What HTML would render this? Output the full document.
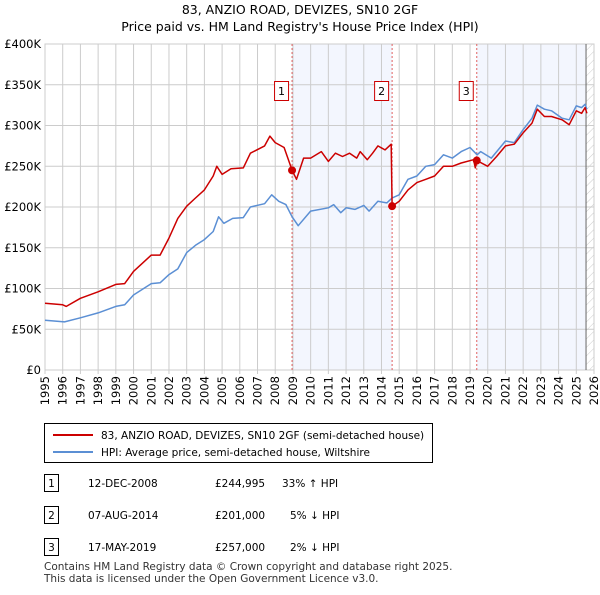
<!DOCTYPE html>
<html><head><meta charset="utf-8"><style>
body{margin:0;background:#fff;font-family:"Liberation Sans","DejaVu Sans",sans-serif}
svg text{font-family:"DejaVu Sans","Liberation Sans",sans-serif}
</style></head><body>
<svg id="c" width="600" height="590" xmlns="http://www.w3.org/2000/svg">
<defs><pattern id="hatch" width="6" height="6" patternUnits="userSpaceOnUse" patternTransform="rotate(45)"><line x1="0" y1="0" x2="0" y2="6" stroke="#ccc" stroke-width="1"/></pattern></defs>
<text x="300" y="14" text-anchor="middle" font-size="12.5">83, ANZIO ROAD, DEVIZES, SN10 2GF</text>
<text x="300" y="31" text-anchor="middle" font-size="12.5">Price paid vs. HM Land Registry's House Price Index (HPI)</text>
<g id="plot"></g>
<g>
<rect x="44.5" y="423.5" width="388" height="39" fill="#fff" stroke="#000"/>
<line x1="53" y1="435" x2="93" y2="435" stroke="#cc0000" stroke-width="2"/>
<text x="101" y="439" font-size="10.5">83, ANZIO ROAD, DEVIZES, SN10 2GF (semi-detached house)</text>
<line x1="53" y1="452" x2="93" y2="452" stroke="#5b8fd4" stroke-width="2"/>
<text x="101" y="456" font-size="10.5">HPI: Average price, semi-detached house, Wiltshire</text>
</g>
<g font-size="10.5">
<rect x="44.5" y="474.5" width="14" height="17" fill="#fff" stroke="#000"/><text x="51.5" y="487" text-anchor="middle">1</text>
<text x="88" y="487">12-DEC-2008</text><text x="215" y="487">£244,995</text><text x="282" y="487">33% ↑ HPI</text>
<rect x="44.5" y="506.5" width="14" height="17" fill="#fff" stroke="#000"/><text x="51.5" y="519" text-anchor="middle">2</text>
<text x="88" y="519">07-AUG-2014</text><text x="215" y="519">£201,000</text><text x="290" y="519">5% ↓ HPI</text>
<rect x="44.5" y="538.5" width="14" height="17" fill="#fff" stroke="#000"/><text x="51.5" y="551" text-anchor="middle">3</text>
<text x="88" y="551">17-MAY-2019</text><text x="215" y="551">£257,000</text><text x="290" y="551">2% ↓ HPI</text>
</g>
<text x="44" y="570" font-size="10.5" fill="#333">Contains HM Land Registry data © Crown copyright and database right 2025.</text>
<text x="44" y="582" font-size="10.5" fill="#333">This data is licensed under the Open Government Licence v3.0.</text>
</svg>
<script>
const hpiYears=[1995,1996.1,1997,1998,1999,1999.5,2000,2001,2001.5,2002,2002.5,2003,2003.5,2004,2004.5,2004.8,2005.1,2005.6,2006.2,2006.6,2007.4,2007.8,2008.2,2008.6,2008.95,2009.3,2010,2011,2011.3,2011.7,2012,2012.5,2013,2013.3,2013.8,2014.3,2014.6,2015,2015.5,2016,2016.5,2017,2017.5,2018,2018.5,2019,2019.4,2019.6,2020.2,2021,2021.5,2022,2022.5,2022.8,2023.2,2023.6,2024.2,2024.6,2025,2025.3,2025.5,2025.6];
const hpiValues=[61,59,64,70,78,80,92,106,107,117,124,144,153,160,170,188,180,186,187,200,204,215,207,203,188,177,195,199,203,193,199,197,202,195,207,205,211,215,234,238,250,252,264,260,268,273,264,268,260,281,279,295,309,325,320,318,309,307,324,322,326,320];
const priceYears=[1995,1996,1996.2,1997,1998,1999,1999.5,2000,2001,2001.5,2002,2002.5,2003,2003.5,2004,2004.5,2004.7,2005,2005.5,2006.2,2006.6,2007.4,2007.7,2008,2008.5,2008.95,2009.2,2009.6,2010,2010.6,2011,2011.4,2011.8,2012.2,2012.6,2012.8,2013.2,2013.5,2013.8,2014.2,2014.55,2014.6,2015,2015.5,2016,2016.5,2017,2017.5,2018,2018.5,2019.2,2019.3,2019.38,2020,2020.5,2021,2021.5,2022,2022.5,2022.8,2023.2,2023.6,2024.2,2024.6,2025,2025.3,2025.5,2025.6];
const priceValues=[82,80,78,88,96,105,106,121,141,141,162,186,201,211,221,238,250,240,247,248,266,275,287,279,273,245,234,260,260,268,256,266,262,266,260,268,258,266,275,270,277,201,207,221,230,234,238,250,250,254,258,248,257,250,262,275,277,291,303,320,311,311,307,301,318,315,322,315];
const saleLabels=["1","2","3"];
const saleYears=[2008.95,2014.6,2019.38];
const saleValues=[245,201,257];
const yTicks=[0,50,100,150,200,250,300,350,400];
const yTickLabels=["£0","£50K","£100K","£150K","£200K","£250K","£300K","£350K","£400K"];
const xTicks=[1995,1996,1997,1998,1999,2000,2001,2002,2003,2004,2005,2006,2007,2008,2009,2010,2011,2012,2013,2014,2015,2016,2017,2018,2019,2020,2021,2022,2023,2024,2025,2026];

const NS="http://www.w3.org/2000/svg";
const X0=45,X1=594,Y0=370,Y1=44;
const xs=y=>X0+(y-1995)/(2026-1995)*(X1-X0);
const ys=v=>Y0-v/400*(Y0-Y1);
const g=document.getElementById('plot');
function mk(t,a,p){const e=document.createElementNS(NS,t);for(const k in a)e.setAttribute(k,a[k]);(p||g).appendChild(e);return e;}
let r=mk('rect',{x:xs(saleYears[0]),y:Y1,width:xs(saleYears[1])-xs(saleYears[0]),height:Y0-Y1,fill:'#f3f6fe'});


r=mk('rect',{x:xs(saleYears[2]),y:Y1,width:xs(2025.55)-xs(saleYears[2]),height:Y0-Y1,fill:'#f3f6fe'});


r=mk('rect',{x:xs(2025.55),y:Y1,width:X1-xs(2025.55),height:Y0-Y1,fill:'url(#hatch)'});


yTicks.forEach((v,i)=>{
 const l=mk('line',{x1:X0,x2:X1,y1:ys(v),y2:ys(v),stroke:'#ccc','stroke-width':1});
 
 
 const t=mk('text',{x:X0-4,y:ys(v)+4,'text-anchor':'end','font-size':'11.5'});t.textContent=yTickLabels[i];
 
 
});
xTicks.forEach(y=>{
 const l=mk('line',{x1:xs(y),x2:xs(y),y1:Y1,y2:Y0+4,stroke:'#ccc','stroke-width':1});
 
 
 const t=mk('text',{x:0,y:0,'text-anchor':'end','font-size':'11.5',transform:`translate(${xs(y)+4},${Y0+6}) rotate(-90)`});t.textContent=y;
 
 
});
let b=mk('rect',{x:X0,y:Y1,width:X1-X0,height:Y0-Y1,fill:'none',stroke:'#ccc'});


let nl=mk('line',{x1:xs(2025.55),x2:xs(2025.55),y1:Y1,y2:Y0,stroke:'#666'});


saleYears.forEach((y,i)=>{
 const l=mk('line',{x1:xs(y),x2:xs(y),y1:Y1,y2:Y0,stroke:'#e06060','stroke-dasharray':'2,2'});
 
 
});
function path(xa,va,col,name){
 const d=xa.map((y,i)=>(i?'L':'M')+xs(y).toFixed(1)+','+ys(va[i]).toFixed(1)).join('');
 const p=mk('path',{d:d,fill:'none',stroke:col,'stroke-width':1.5,'stroke-linejoin':'round'});
 
 
}
path(hpiYears,hpiValues,'#5b8fd4','hpi-line');
path(priceYears,priceValues,'#cc0000','price-line');
saleYears.forEach((y,i)=>{
 const c=mk('circle',{cx:xs(y),cy:ys(saleValues[i]),r:4,fill:'#cc0000'});
 
 
 const bx=mk('rect',{x:xs(y)-17.5,y:81.5,width:14,height:19,fill:'#fff',stroke:'#cc0000'});
 
 
 const t=mk('text',{x:xs(y)-10.5,y:95,'text-anchor':'middle','font-size':'11'});t.textContent=saleLabels[i];
 
 
});
</script>
</body></html>
